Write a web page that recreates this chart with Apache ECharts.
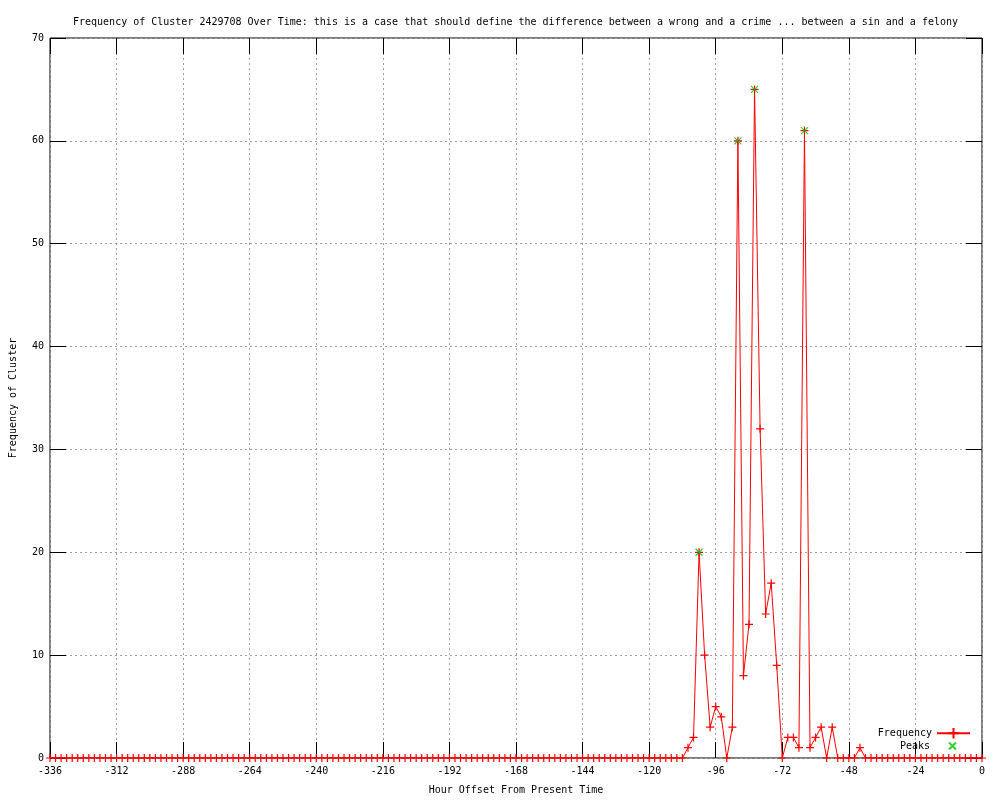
<!DOCTYPE html>
<html>
<head>
<meta charset="utf-8">
<script src="https://cdn.jsdelivr.net/npm/echarts@6/dist/echarts.min.js"></script>
<style>
  html, body { margin: 0; padding: 0; background: #fff; }
  #chart { width: 1000px; height: 800px; }
</style>
</head>
<body>
<div id="chart"></div>
<script>
// hours run from -336 to 0, one sample every 2 hours
const startHour = -336;
const stepHours = 2;

// frequency per sample (169 samples)
const frequency = [
  0, 0, 0, 0, 0, 0, 0, 0, 0, 0, 0, 0, 0, 0, 0, 0, 0, 0, 0, 0,
  0, 0, 0, 0, 0, 0, 0, 0, 0, 0, 0, 0, 0, 0, 0, 0, 0, 0, 0, 0,
  0, 0, 0, 0, 0, 0, 0, 0, 0, 0, 0, 0, 0, 0, 0, 0, 0, 0, 0, 0,
  0, 0, 0, 0, 0, 0, 0, 0, 0, 0, 0, 0, 0, 0, 0, 0, 0, 0, 0, 0,
  0, 0, 0, 0, 0, 0, 0, 0, 0, 0, 0, 0, 0, 0, 0, 0, 0, 0, 0, 0,
  0, 0, 0, 0, 0, 0, 0, 0, 0, 0, 0, 0, 0, 0, 0,
  // -106 .. -44
  1, 2, 20, 10, 3, 5, 4, 0, 3, 60, 8, 13, 65, 32, 14, 17, 9, 0,
  2, 2, 1, 61, 1, 2, 3, 0, 3, 0, 0, 0, 0, 1,
  // -42 .. 0
  0, 0, 0, 0, 0, 0, 0, 0, 0, 0, 0, 0, 0, 0, 0, 0, 0, 0, 0, 0, 0, 0
];

const peakHours = [-102, -88, -82, -64];
const peakValues = [20, 60, 65, 61];

const xTicks = { min: -336, max: 0, interval: 24 };
const yTicks = { min: 0, max: 70, interval: 10 };

const titleText = "Frequency of Cluster 2429708 Over Time: this is a case that should define the difference between a wrong and a crime ... between a sin and a felony";

const font = "DejaVu Sans Mono";
const plusSymbol = "path://M0,5L10,5M5,0L5,10";
const crossSymbol = "path://M0,0L10,10M10,0L0,10";

const freqData = frequency.map((v, i) => [startHour + i * stepHours, v]);
const peakData = peakHours.map((h, i) => [h, peakValues[i]]);

const chart = echarts.init(document.getElementById("chart"));

const gridLine = { show: true, lineStyle: { color: "#a0a0a0", width: 1, type: [2, 3] } };
const tick = { show: true, inside: true, length: 16, lineStyle: { color: "#000" } };
const noLine = { show: false, onZero: false };
const legendText = { fontFamily: font, fontSize: 10, color: "#000" };

chart.setOption({
  backgroundColor: "#fff",
  animation: false,
  title: {
    text: titleText,
    left: 68,
    top: 12,
    textStyle: { fontFamily: font, fontSize: 10, fontWeight: "normal", color: "#000" },
  },
  grid: {
    left: 49,
    right: 18,
    top: 38,
    bottom: 40,
    show: true,
    borderColor: "#000",
    borderWidth: 1,
  },
  legend: [
    {
      orient: "vertical",
      right: 29,
      top: 727,
      align: "right",
      itemWidth: 33,
      itemHeight: 13,
      padding: 0,
      textStyle: legendText,
      data: ["Frequency"],
    },
    {
      orient: "vertical",
      right: 43,
      top: 741,
      align: "right",
      itemWidth: 7,
      itemHeight: 7,
      padding: 0,
      textStyle: Object.assign({ padding: [0, 14, 0, 0] }, legendText),
      data: ["Peaks"],
    },
  ],
  xAxis: [
    {
      type: "value",
      min: xTicks.min,
      max: xTicks.max,
      interval: xTicks.interval,
      name: "Hour Offset From Present Time",
      nameLocation: "middle",
      nameGap: 27,
      nameTextStyle: { fontFamily: font, fontSize: 10, color: "#000" },
      axisLine: noLine,
      axisTick: tick,
      axisLabel: { margin: 8, fontFamily: font, fontSize: 10, color: "#000" },
      splitLine: gridLine,
    },
    {
      type: "value",
      position: "top",
      min: xTicks.min,
      max: xTicks.max,
      interval: xTicks.interval,
      axisLine: noLine,
      axisTick: tick,
      axisLabel: { show: false },
      splitLine: { show: false },
    },
  ],
  yAxis: [
    {
      type: "value",
      min: yTicks.min,
      max: yTicks.max,
      interval: yTicks.interval,
      name: "Frequency of Cluster",
      nameLocation: "middle",
      nameGap: 32,
      nameTextStyle: { fontFamily: font, fontSize: 10, color: "#000" },
      axisLine: noLine,
      axisTick: tick,
      axisLabel: { margin: 6, fontFamily: font, fontSize: 10, color: "#000" },
      splitLine: gridLine,
    },
    {
      type: "value",
      position: "right",
      min: yTicks.min,
      max: yTicks.max,
      interval: yTicks.interval,
      axisLine: noLine,
      axisTick: tick,
      axisLabel: { show: false },
      splitLine: { show: false },
    },
  ],
  series: [
    {
      name: "Frequency",
      type: "line",
      data: freqData,
      symbol: plusSymbol,
      symbolSize: 8,
      showAllSymbol: true,
      lineStyle: { color: "#ff0000", width: 1 },
      itemStyle: { color: "#ff0000", borderColor: "#ff0000", borderWidth: 1.2 },
      z: 2,
    },
    {
      name: "Peaks",
      type: "scatter",
      data: peakData,
      symbol: crossSymbol,
      symbolSize: 7,
      itemStyle: { color: "#00c000", borderColor: "#00c000", borderWidth: 1.2 },
      z: 3,
    },
  ],
});
</script>
</body>
</html>
